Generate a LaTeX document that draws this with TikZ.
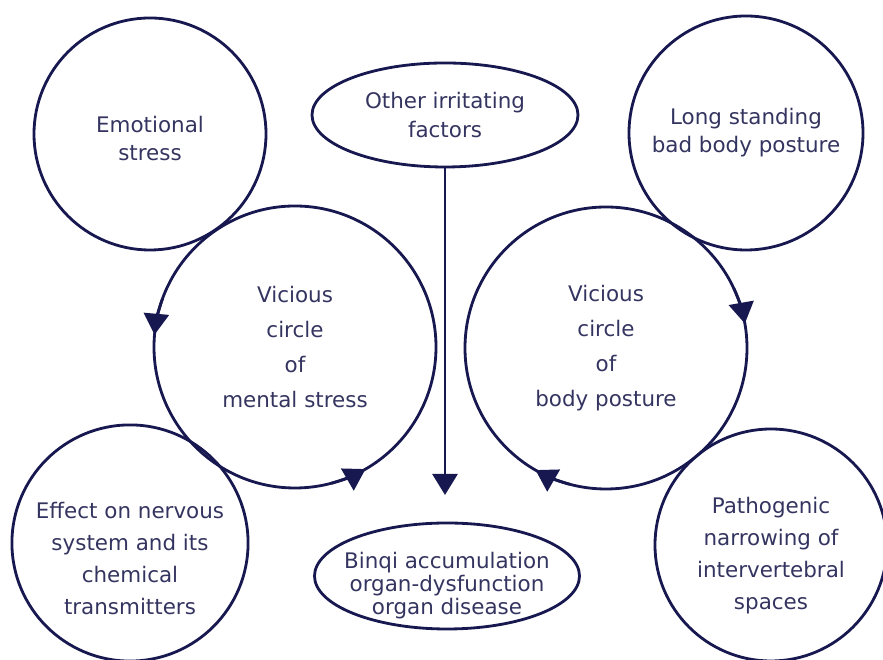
\documentclass[tikz,border=0pt]{standalone}
\usepackage{fontspec}
\setmainfont{DejaVu Sans}
\usetikzlibrary{shapes.geometric, arrows.meta}
\definecolor{linecol}{RGB}{24,24,80}
\definecolor{txtcol}{RGB}{52,52,96}
\tikzset{
    bubble/.style = {circle, draw=linecol, line width=1.6pt, inner sep=0pt, outer sep=0pt,
        text=txtcol, align=center, font=\fontsize{12.2}{#1}\selectfont},
    oval/.style = {ellipse, draw=linecol, line width=1.6pt, inner xsep=-0.5cm, inner ysep=-0.3cm, outer sep=0pt,
        text=txtcol, align=center, font=\fontsize{12.2}{#1}\selectfont},
    flow/.style = {draw=linecol, line width=1.6pt, -{Triangle[width=0.5cm,length=0.42cm]}},
}
\begin{document}
\begin{tikzpicture}

\useasboundingbox (0,0) rectangle (17.66,13.2);

\node[bubble=15.9pt, minimum size=4.64cm](emo) at (3.00,10.52) {\rule{0pt}{0.5cm}Emotional\\stress};
\node[oval=16.5pt, minimum width=5.32cm, minimum height=2.08cm](oth) at (8.90,10.90) {Other irritating\\factors};
\node[bubble=15.9pt, minimum size=4.68cm](lsp) at (14.92,10.54) {Long standing\\bad body posture};

\node[bubble=19.9pt, minimum size=5.64cm](vms) at (5.90,6.26) {Vicious\\circle\\of\\mental stress};
\node[bubble=19.9pt, minimum size=5.64cm](vbp) at (12.12,6.24) {Vicious\\circle\\of\\body posture};

\node[bubble=18.2pt, minimum size=4.64cm](eff) at (2.60,2.34) {\rule{0pt}{0.95cm}Effect on nervous\\system and its\\chemical\\transmitters};
\node[oval=13.1pt, minimum width=5.30cm, minimum height=2.12cm](bin) at (8.94,1.68) {\rule{0pt}{0.7cm}Binqi accumulation\\organ-dysfunction\\organ disease};
\node[bubble=18.2pt, minimum size=4.64cm](pat) at (15.42,2.30) {\rule{0pt}{0.75cm}Pathogenic\\narrowing of\\intervertebral\\spaces};

\coordinate (tip) at (8.90,3.30);
\draw[flow](oth.south) -- (tip);

\draw[flow](vms.160) arc[start angle=160, delta angle=15, radius=2.82cm];
\draw[flow](vms.285) arc[start angle=285, delta angle=15, radius=2.82cm];
\draw[flow](vbp.25) arc[start angle=25, delta angle=-15, radius=2.82cm];
\draw[flow](vbp.255) arc[start angle=255, delta angle=-15, radius=2.82cm];

\end{tikzpicture}
\end{document}
